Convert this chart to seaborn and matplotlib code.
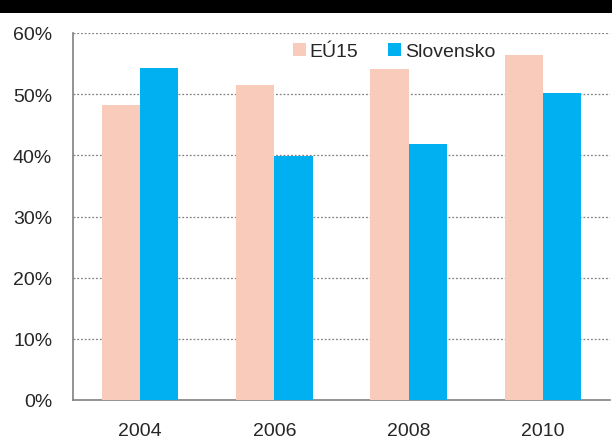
import matplotlib
matplotlib.use("Agg")
import matplotlib.pyplot as plt
import seaborn as sns
import pandas as pd
from matplotlib.patches import Rectangle

years = ["2004", "2006", "2008", "2010"]
eu15 = [48.2, 51.5, 54.1, 56.4]
slovensko = [54.2, 39.9, 41.8, 50.2]
series_names = ["EÚ15", "Slovensko"]
yticks = [0, 10, 20, 30, 40, 50, 60]

df = pd.DataFrame({
    "year": years * 2,
    "value": eu15 + slovensko,
    "series": [series_names[0]] * len(years) + [series_names[1]] * len(years),
})

sns.set_style("white")
plt.rcParams['font.family'] = ['Liberation Sans', 'DejaVu Sans']

fig = plt.figure(figsize=(6.12, 4.39), dpi=100)
ax = fig.add_axes([73/612, 1 - 401/439, (610 - 73)/612, (401 - 34)/439])

palette = {"EÚ15": "#F8CBBA", "Slovensko": "#00B0F0"}
sns.barplot(data=df, x="year", y="value", hue="series", palette=palette,
            width=0.57, saturation=1, ax=ax, zorder=3, linewidth=0, edgecolor="none")

ax.set_ylim(0, 60)
ax.set_xlim(-0.5, 3.5)
ax.set_yticks(yticks)
ax.set_yticklabels([f"{v}%" for v in yticks], fontsize=14)
ax.set_xlabel("")
ax.set_ylabel("")

ax.set_xticks([-0.5, 0.5, 1.5, 2.5, 3.5])
ax.set_xticklabels([])
ax.set_xticks(range(len(years)), minor=True)
ax.set_xticklabels(years, minor=True, fontsize=14)
ax.tick_params(axis="x", which="minor", length=0, pad=16)
ax.tick_params(axis="x", which="major", length=4.5, width=1.2, color="#808080", direction="out")
ax.tick_params(axis="y", length=4.5, width=1.2, color="#808080", direction="out", pad=10.5)

for y in yticks[1:]:
    ax.axhline(y, color="#808080", linestyle=(0, (1.5, 1.5)), linewidth=0.9, zorder=1)

for s in ["top", "right"]:
    ax.spines[s].set_visible(False)
for s in ["left", "bottom"]:
    ax.spines[s].set_color("#808080")
    ax.spines[s].set_linewidth(1.2)

leg = ax.legend(loc="center left", bbox_to_anchor=((293 - 73) / 537, (401 - 52.5) / 367),
                ncol=2, frameon=False, fontsize=14, handlelength=0.65, handleheight=0.65,
                handletextpad=0.2, columnspacing=1.55, borderpad=0, borderaxespad=0)

fig.add_artist(Rectangle((0, 1 - 14/439), 1, 14/439, transform=fig.transFigure,
                         facecolor="black", edgecolor="none"))

fig.savefig("out.png", dpi=100)
